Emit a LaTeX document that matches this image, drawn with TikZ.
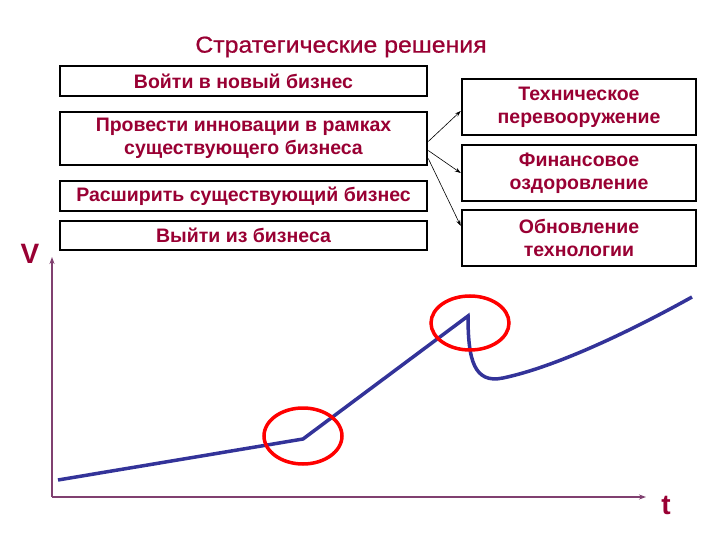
\documentclass[tikz,border=0pt]{standalone}
\usepackage{fontspec}
\setmainfont{Liberation Sans}
\newfontfamily\titlefont[FakeStretch=1.08,FakeBold=0.8]{Liberation Sans}
\usetikzlibrary{calc,arrows.meta}
\definecolor{maroon}{RGB}{153,0,51}
\definecolor{axiscol}{RGB}{128,64,112}
\definecolor{curvecol}{RGB}{51,51,153}
\begin{document}
\begin{tikzpicture}[x=1pt,y=-1pt,
  box/.style={draw=black,line width=2.5pt,fill=white,text=maroon,font=\fontsize{19.5}{23.3}\selectfont\bfseries,align=center,inner sep=0pt},
  lbox/.style={box,minimum width=367pt},
  rbox/.style={box,minimum width=234pt,minimum height=56pt},
  link/.style={-{Stealth[length=6pt,width=4pt]},line width=0.6pt,black},
  axis/.style={-{Stealth[length=7pt,width=5pt]},line width=1.5pt,draw=axiscol},
  ring/.style={draw=red,line width=3.5pt},
  curve/.style={draw=curvecol,line width=3.5pt,line join=miter}]
\useasboundingbox (0,0) rectangle (720,540);
\node[text=maroon,font=\titlefont\fontsize{23}{27}\selectfont] (title) at (341,47) {Стратегические решения};
\node[lbox,minimum height=30pt] (b1) at (243.5,81) {Войти в новый бизнес};
\node[lbox,minimum height=53pt] (b2) at (243.5,138.5) {Провести инновации в рамках\\существующего бизнеса};
\node[lbox,minimum height=30pt] (b3) at (243.5,196) {Расширить существующий бизнес};
\node[lbox,minimum height=29pt] (b4) at (243.5,235.5) {Выйти из бизнеса};
\node[rbox] (r1) at (579,107) {Техническое\\перевооружение};
\node[rbox] (r2) at (579,173) {Финансовое\\оздоровление};
\node[rbox] (r3) at (579,238) {Обновление\\технологии};
\draw[link] ($(b2.east)+(0,3)$) -- ($(r1.west)+(0,4)$);
\draw[link] ($(b2.east)+(0,12)$) -- ($(r2.west)+(0,0)$);
\draw[link] ($(b2.east)+(0,20)$) -- ($(r3.west)+(0,-12)$);
\coordinate (o) at (52,497);
\coordinate (ytop) at (52,257);
\coordinate (xend) at (646,497);
\draw[axis] (o) -- (ytop);
\draw[axis] (o) -- (xend);
\node[text=maroon,font=\fontsize{28}{32}\selectfont\bfseries] (v) at (30,254) {V};
\node[text=maroon,font=\fontsize{28}{32}\selectfont\bfseries] (t) at (666,505) {t};
\coordinate (p0) at (58,480);
\coordinate (p1) at (303,439);
\coordinate (p2) at (468,316);
\coordinate (p3) at (503,378);
\coordinate (p4) at (692,297);
\draw[curve] (p0) -- (p1) -- (p2) .. controls (468,360) and (474,384) .. (p3) .. controls (560,366) and (640,326) .. (p4);
\draw[ring] (303,436) ellipse [x radius=39pt,y radius=28pt];
\draw[ring] (470,323) ellipse [x radius=39pt,y radius=27pt];
\end{tikzpicture}
\end{document}
